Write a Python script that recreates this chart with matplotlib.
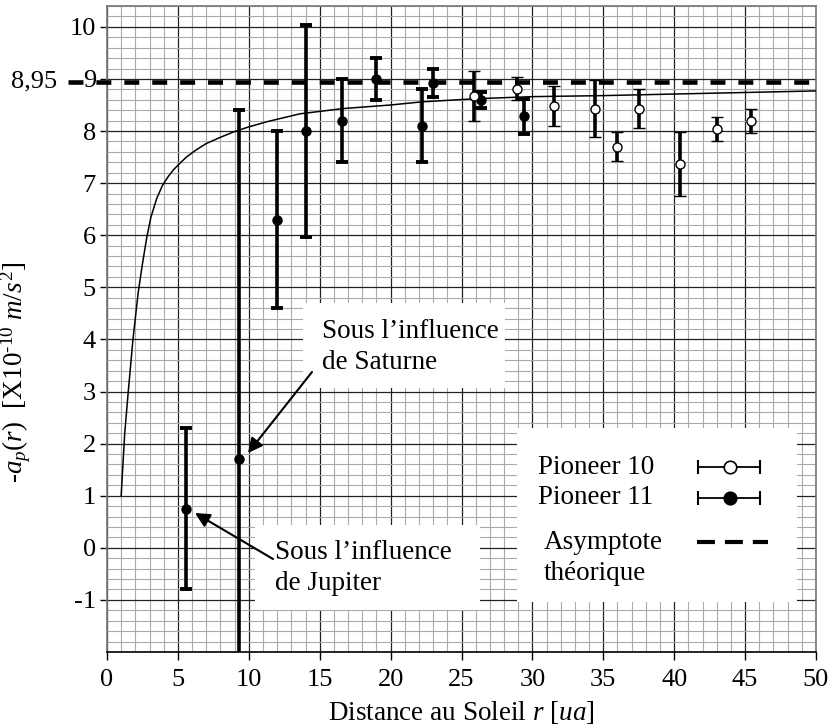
import matplotlib
matplotlib.use("Agg")
import matplotlib.pyplot as plt
from matplotlib.ticker import MultipleLocator, FixedLocator
from matplotlib.patches import Rectangle

plt.rcParams['font.family'] = ['Liberation Serif', 'DejaVu Serif']
plt.rcParams['mathtext.fontset'] = 'custom'
plt.rcParams['mathtext.rm'] = 'Liberation Serif'
plt.rcParams['mathtext.it'] = 'Liberation Serif:italic'
plt.rcParams['axes.unicode_minus'] = False

# ---- data ----
p11_r = [5.6, 9.3, 12.0, 14.0, 16.6, 19.0, 22.2, 23.0, 26.4, 29.4]
p11_a = [0.75, 1.7, 6.3, 8.0, 8.2, 9.0, 8.1, 8.93, 8.6, 8.28]
p11_err = [1.55, 6.7, 1.7, 2.03, 0.8, 0.4, 0.7, 0.27, 0.15, 0.33]

p10_r = [25.9, 28.9, 31.5, 34.4, 36.0, 37.5, 40.4, 43.0, 45.4]
p10_a = [8.68, 8.81, 8.48, 8.43, 7.7, 8.43, 7.37, 8.03, 8.2]
p10_err = [0.48, 0.22, 0.39, 0.54, 0.28, 0.37, 0.62, 0.23, 0.23]

curve_r = [1.0, 1.05, 1.25, 1.5, 1.83, 2.2, 2.5, 2.8, 3.1, 3.5, 3.9, 4.3,
           4.7, 5.1, 5.6, 6.3, 7.0, 8.0, 8.9, 10.0, 11.3, 13.6, 16.6, 20.0,
           22.2, 26.0, 30.0, 35.0, 40.0, 45.0, 50.0]
curve_a = [1.0, 1.25, 2.2, 3.0, 4.0, 4.9, 5.45, 5.95, 6.35, 6.7, 6.95, 7.12,
           7.26, 7.37, 7.5, 7.64, 7.76, 7.88, 7.98, 8.08, 8.18, 8.33, 8.43,
           8.5, 8.56, 8.62, 8.66, 8.68, 8.71, 8.74, 8.77]

asymptote = 8.95
x_ticks = [0, 5, 10, 15, 20, 25, 30, 35, 40, 45, 50]
y_ticks = [-1, 0, 1, 2, 3, 4, 5, 6, 7, 8, 9, 10]

W, H = 833, 725
fig = plt.figure(figsize=(W / 100, H / 100), dpi=100)
ax = fig.add_axes([107 / W, 1 - 652 / H, (816 - 107) / W, 646 / H])
ax.set_xlim(0, 50)
ax.set_ylim(-2, 10.4)


def px(x, y):
    """figure pixel (from top-left) -> data coords"""
    return ax.transData.inverted().transform((x, H - y))


def pax(x, y):
    """figure pixel (from top-left) -> axes fraction"""
    return ax.transAxes.inverted().transform((x, H - y))


FS = 19.5
TFS = 19

# grid
ax.xaxis.set_major_locator(FixedLocator(x_ticks))
ax.yaxis.set_major_locator(FixedLocator(y_ticks))
ax.xaxis.set_minor_locator(MultipleLocator(1))
ax.yaxis.set_minor_locator(MultipleLocator(0.2))
ax.set_axisbelow(True)
ax.grid(which='minor', color='#aaaaaa', lw=0.8)
ax.grid(which='major', color='#222222', lw=0.9)
ax.tick_params(which='minor', length=0)
ax.tick_params(axis='x', which='major', direction='out', length=6, width=1,
               labelsize=TFS, pad=6)
ax.tick_params(axis='y', which='major', direction='out', length=5, width=1,
               labelsize=TFS, pad=3)
for s in ['left', 'top', 'right']:
    ax.spines[s].set_color('#777777')
    ax.spines[s].set_linewidth(1.2)
ax.spines['bottom'].set_color('black')
ax.spines['bottom'].set_linewidth(1.2)

# theoretical curve
ax.plot(curve_r, curve_a, color='black', lw=1.1, zorder=4)

# asymptote
x0 = px(68, 0)[0]
ax.plot([x0, 50], [asymptote, asymptote], color='black', lw=3.3,
        dashes=(3.26, 2.83), clip_on=False, zorder=4)
ax.text(px(57, 0)[0], asymptote, '8,95', ha='right', va='center',
        fontsize=TFS, clip_on=False)

# error bars
ax.errorbar(p11_r, p11_a, yerr=p11_err, fmt='o', color='black',
            ms=6.5, elinewidth=2.6, capsize=4, capthick=2.8, zorder=5)
ax.errorbar(p10_r, p10_a, yerr=p10_err, fmt='o', color='black',
            mfc='white', mec='black', mew=1.0, ms=6.5,
            elinewidth=2.6, capsize=4, capthick=2.8, zorder=5)

# annotation boxes
for (xa, ya, xb, yb) in [(303, 303, 505, 388), (255, 525, 480, 610)]:
    (dx0, dy0) = px(xa, yb)
    (dx1, dy1) = px(xb, ya)
    ax.add_patch(Rectangle((dx0, dy0), dx1 - dx0, dy1 - dy0,
                           facecolor='white', edgecolor='none', zorder=3))

ax.text(*px(322, 347), "Sous l\u2019influence\nde Saturne", ha='left',
        va='center', fontsize=FS, linespacing=1.3, zorder=6)
ax.text(*px(275, 568), "Sous l\u2019influence\nde Jupiter", ha='left',
        va='center', fontsize=FS, linespacing=1.3, zorder=6)

arrow = dict(arrowstyle='-|>', color='black', lw=1.5, mutation_scale=22,
             shrinkA=0, shrinkB=0)
ax.annotate('', xy=px(248, 453), xytext=px(312, 372), arrowprops=arrow,
            zorder=6)
ax.annotate('', xy=px(195, 513), xytext=px(273, 559), arrowprops=arrow,
            zorder=6)

# legend (drawn by hand)
(lx0, ly0) = pax(517, 602)
(lx1, ly1) = pax(797, 428)
ax.add_patch(Rectangle((lx0, ly0), lx1 - lx0, ly1 - ly0, transform=ax.transAxes,
                       facecolor='white', edgecolor='none', zorder=6))
tA = dict(transform=ax.transAxes, fontsize=FS, ha='left', va='center',
          zorder=7)
ax.text(*pax(538, 467), 'Pioneer 10', **tA)
ax.text(*pax(538, 497), 'Pioneer 11', **tA)
ax.text(*pax(544, 558), 'Asymptote\nth\u00e9orique', linespacing=1.3, **tA)

for yy, face in [(467, 'white'), (498, 'black')]:
    (a0, b0) = pax(698, yy)
    (a1, _) = pax(760, yy)
    (ac, _) = pax(730, yy)
    ax.plot([a0, a1], [b0, b0], color='black', lw=1.3, transform=ax.transAxes,
            zorder=7, clip_on=False)
    ax.plot([a0, a1], [b0, b0], ls='none', marker='|', ms=10, mew=1.5,
            color='black', transform=ax.transAxes, zorder=7, clip_on=False)
    ax.plot([ac], [b0], ls='none', marker='o', ms=9, mfc=face, mec='black',
            mew=1.2, transform=ax.transAxes, zorder=8, clip_on=False)

(d0, e0) = pax(697, 542)
(d1, _) = pax(768, 542)
ax.plot([d0, d1], [e0, e0], color='black', lw=3.0, dashes=(4.3, 2.4),
        transform=ax.transAxes, zorder=7, clip_on=False)

# labels
ax.set_xlabel(r'Distance au Soleil $r$ [$ua$]', fontsize=FS, labelpad=6)
ax.set_ylabel('-$a_p\\mathit{(r)}$  [X$\\mathit{10^{\u2010 10}\\ m/s^2}$]',
              fontsize=FS)
ax.yaxis.set_label_coords(-0.105, 0.433)

ax.set_xlim(0, 50)
ax.set_ylim(-2, 10.4)
fig.savefig('out.png', dpi=100)
